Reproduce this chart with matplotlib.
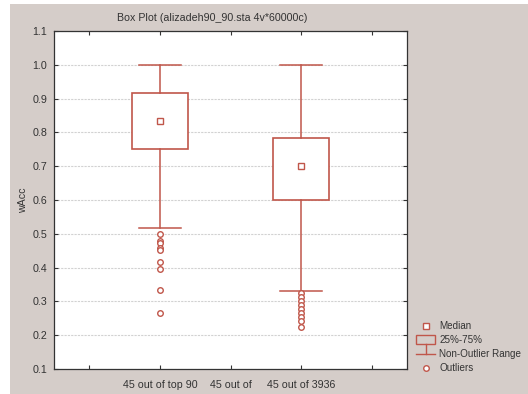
import numpy as np
import matplotlib
matplotlib.use("Agg")
import matplotlib.pyplot as plt
from matplotlib.patches import Rectangle
from matplotlib.lines import Line2D

plt.rcParams['font.family'] = ['Liberation Sans', 'DejaVu Sans']

# data
positions = [2, 4]
tick_pos = [1, 2, 3, 4, 5]
tick_labels = ['', '45 out of top 90', '45 out of', '45 out of 3936', '']
medians = [0.833, 0.700]
q1 = [0.750, 0.600]
q3 = [0.917, 0.783]
whislo = [0.517, 0.331]
whishi = [1.000, 1.000]
fliers_a = [0.500, 0.480, 0.473, 0.457, 0.452, 0.417, 0.395, 0.333, 0.267]
fliers_b = [0.324, 0.312, 0.301, 0.289, 0.278, 0.267, 0.255, 0.243, 0.225]
fliers = [fliers_a, fliers_b]

red = '#c0564a'
bg = '#d5cdc9'
fs = 7.7

fig = plt.figure(figsize=(5.28, 3.94), dpi=100, facecolor='white')
fig.add_artist(Rectangle((10/528, 0), 1, (394-4)/394, transform=fig.transFigure,
                         facecolor=bg, edgecolor='none', zorder=-10))

ax = fig.add_axes([54/528, 25/394, 353/528, 338/394])
ax.set_zorder(1)

stats = []
for i in range(2):
    stats.append(dict(med=medians[i], q1=q1[i], q3=q3[i], whislo=whislo[i],
                      whishi=whishi[i], fliers=fliers[i], mean=medians[i]))

ax.bxp(stats, positions=positions, widths=0.8, capwidths=0.6, patch_artist=True,
       showmeans=True,
       boxprops=dict(facecolor='white', edgecolor=red, linewidth=1.2),
       whiskerprops=dict(color=red, linewidth=1.1),
       capprops=dict(color=red, linewidth=1.1),
       medianprops=dict(linewidth=0),
       meanprops=dict(marker='s', markerfacecolor='white', markeredgecolor=red,
                      markersize=4, markeredgewidth=1.0),
       flierprops=dict(marker='o', markerfacecolor='white', markeredgecolor=red,
                       markersize=4, markeredgewidth=1.0))

ax.set_xlim(0.5, 5.5)
ax.set_ylim(0.1, 1.1)
ax.set_yticks(np.arange(0.1, 1.15, 0.1))
ax.set_yticklabels(['%.1f' % v for v in np.arange(0.1, 1.15, 0.1)])
ax.set_xticks(tick_pos)
ax.set_xticklabels(tick_labels)
ax.tick_params(direction='in', top=True, right=True, length=3, width=0.8,
               labelsize=fs, colors='#333333', pad=5)
ax.tick_params(axis='x', pad=8)
for s in ax.spines.values():
    s.set_color('#333333')
    s.set_linewidth(0.9)
ax.yaxis.grid(True, color='#d2d2d2', linestyle=(0, (2, 1)), linewidth=0.8)
ax.set_axisbelow(True)

ax.set_ylabel('wAcc', fontsize=fs, color='#333333', labelpad=3)
fig.text(212/528, 1 - 18/394, 'Box Plot (alizadeh90_90.sta 4v*60000c)',
         ha='center', va='center', fontsize=fs, color='#333333')

# legend drawn by hand at the right
def fx(px):
    return px / 528

def fy(py):
    return 1 - py / 394

lx = 426
fig.add_artist(Line2D([fx(lx)], [fy(326)], marker='s', markersize=4,
                      markerfacecolor='white', markeredgecolor=red, transform=fig.transFigure))
fig.add_artist(Rectangle((fx(416), fy(344)), fx(435) - fx(416), fy(335) - fy(344),
                         transform=fig.transFigure, facecolor='none', edgecolor=red, linewidth=1))
fig.add_artist(Line2D([fx(lx), fx(lx)], [fy(344), fy(354)], color=red, linewidth=1,
                      transform=fig.transFigure))
fig.add_artist(Line2D([fx(416), fx(435)], [fy(354), fy(354)], color=red, linewidth=1,
                      transform=fig.transFigure))
fig.add_artist(Line2D([fx(lx)], [fy(368)], marker='o', markersize=4,
                      markerfacecolor='white', markeredgecolor=red, transform=fig.transFigure))
leg_text = ['Median', '25%-75%', 'Non-Outlier Range', 'Outliers']
leg_y = [326, 340, 354, 368]
for t, y in zip(leg_text, leg_y):
    fig.text(fx(439), fy(y), t, ha='left', va='center', fontsize=7.1, color='#333333')

fig.savefig('out.png', dpi=100, facecolor=fig.get_facecolor())
